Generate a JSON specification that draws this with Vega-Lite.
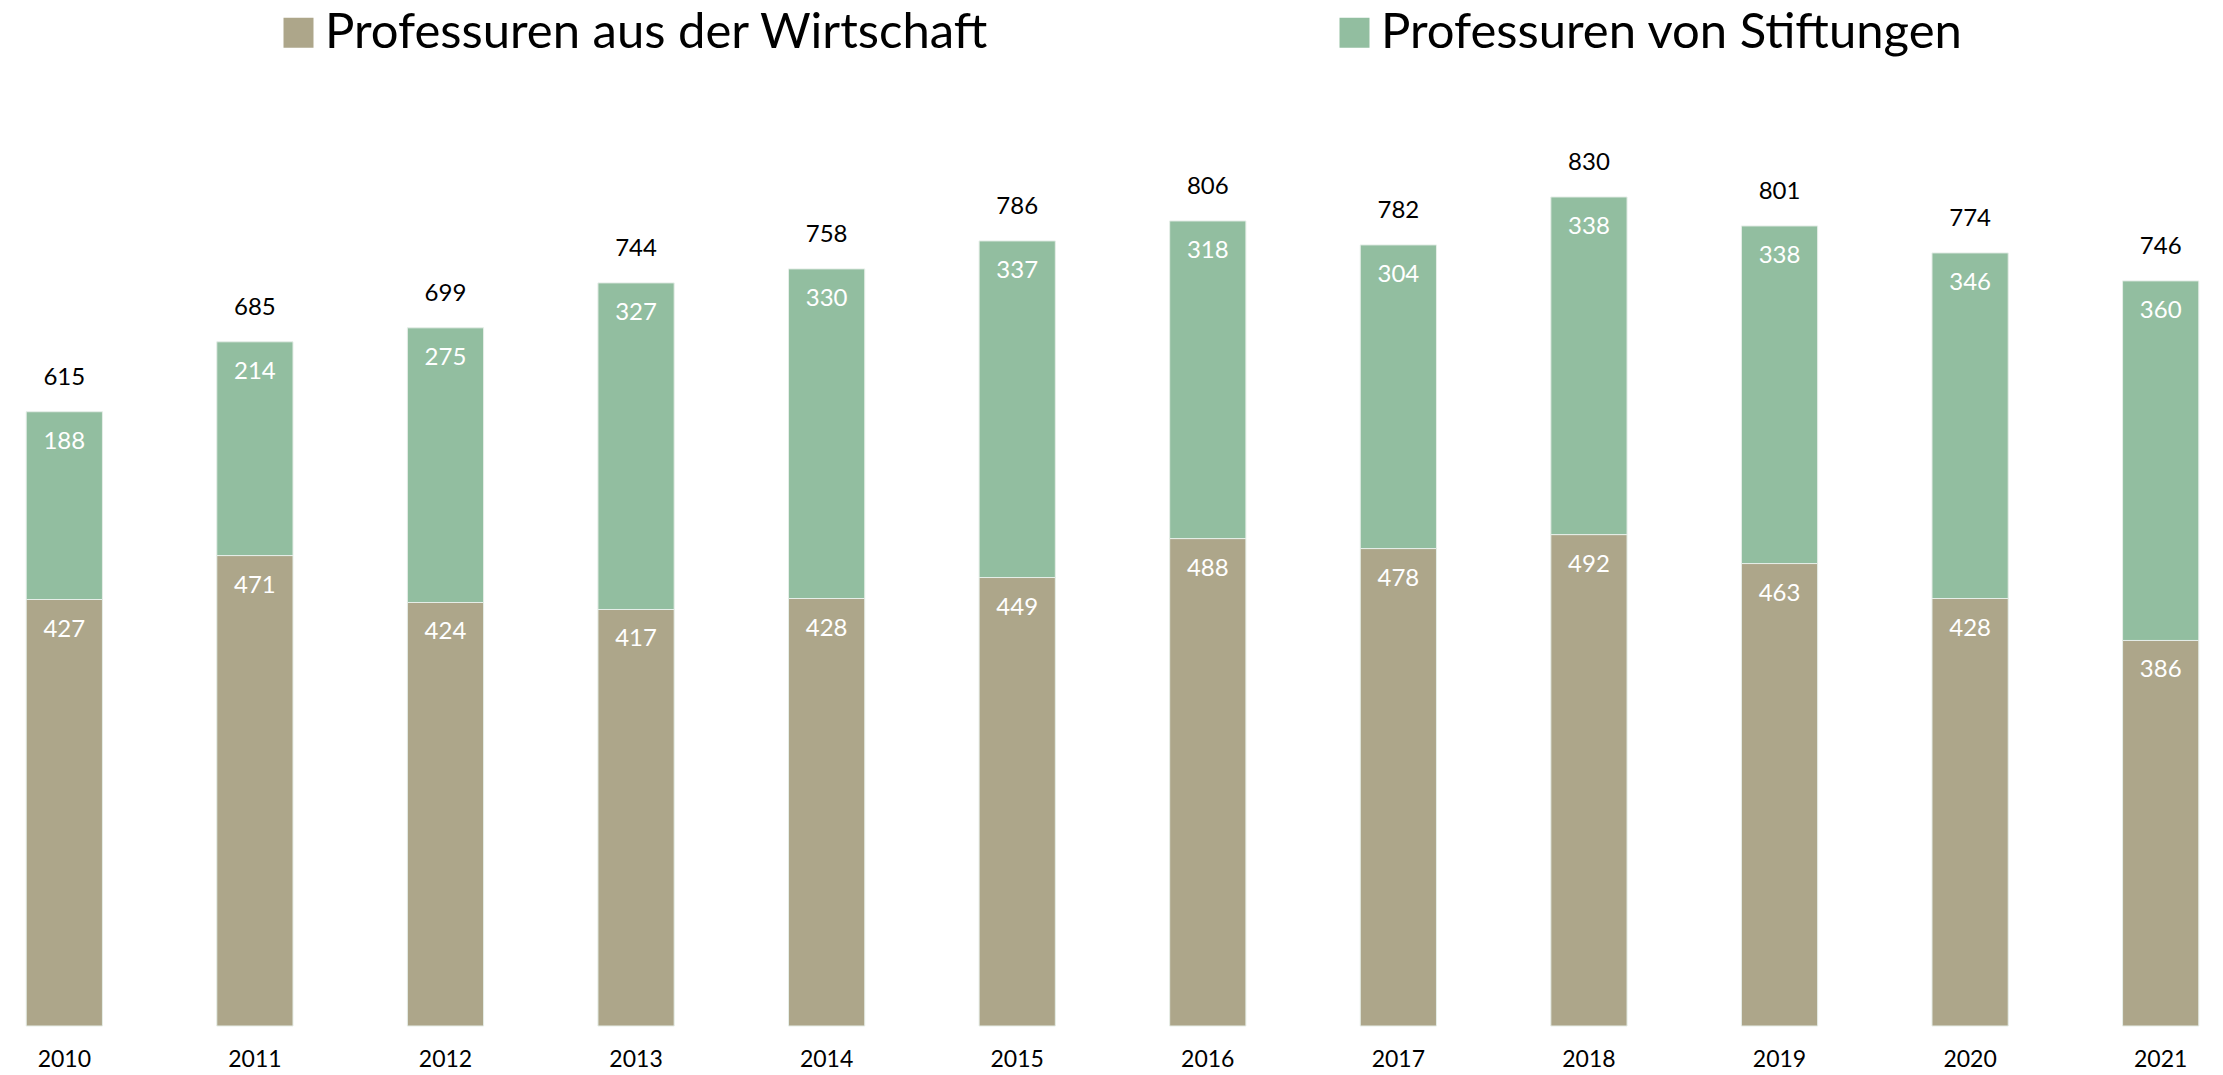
{
  "$schema": "https://vega.github.io/schema/vega-lite/v6.json",
  "width": 2221,
  "height": 849,
  "autosize": {"type": "none"},
  "padding": {"left": 2, "top": 177, "right": 0, "bottom": 49},
  "background": "#ffffff",
  "config": {"view": {"stroke": null}, "font": "Lato"},
  "data": {
    "values": [
      {"year": "2010", "series": "Professuren aus der Wirtschaft", "value": 427},
      {"year": "2010", "series": "Professuren von Stiftungen", "value": 188},
      {"year": "2011", "series": "Professuren aus der Wirtschaft", "value": 471},
      {"year": "2011", "series": "Professuren von Stiftungen", "value": 214},
      {"year": "2012", "series": "Professuren aus der Wirtschaft", "value": 424},
      {"year": "2012", "series": "Professuren von Stiftungen", "value": 275},
      {"year": "2013", "series": "Professuren aus der Wirtschaft", "value": 417},
      {"year": "2013", "series": "Professuren von Stiftungen", "value": 327},
      {"year": "2014", "series": "Professuren aus der Wirtschaft", "value": 428},
      {"year": "2014", "series": "Professuren von Stiftungen", "value": 330},
      {"year": "2015", "series": "Professuren aus der Wirtschaft", "value": 449},
      {"year": "2015", "series": "Professuren von Stiftungen", "value": 337},
      {"year": "2016", "series": "Professuren aus der Wirtschaft", "value": 488},
      {"year": "2016", "series": "Professuren von Stiftungen", "value": 318},
      {"year": "2017", "series": "Professuren aus der Wirtschaft", "value": 478},
      {"year": "2017", "series": "Professuren von Stiftungen", "value": 304},
      {"year": "2018", "series": "Professuren aus der Wirtschaft", "value": 492},
      {"year": "2018", "series": "Professuren von Stiftungen", "value": 338},
      {"year": "2019", "series": "Professuren aus der Wirtschaft", "value": 463},
      {"year": "2019", "series": "Professuren von Stiftungen", "value": 338},
      {"year": "2020", "series": "Professuren aus der Wirtschaft", "value": 428},
      {"year": "2020", "series": "Professuren von Stiftungen", "value": 346},
      {"year": "2021", "series": "Professuren aus der Wirtschaft", "value": 386},
      {"year": "2021", "series": "Professuren von Stiftungen", "value": 360}
    ]
  },
  "transform": [
    {"stack": "value", "groupby": ["year"], "sort": [{"field": "series", "order": "ascending"}], "as": ["v0", "v1"]}
  ],
  "encoding": {
    "x": {
      "field": "year", "type": "nominal", "title": null,
      "scale": {"paddingInner": 0.6, "paddingOuter": 0.127},
      "axis": {"labelAngle": 0, "domain": false, "ticks": false, "tickSize": 0, "labelFontSize": 23, "labelColor": "#000000", "labelPadding": 22, "labelFont": "Lato"}
    }
  },
  "layer": [
    {
      "mark": {"type": "bar", "stroke": "#e6eee8", "strokeWidth": 1},
      "encoding": {
        "y": {"field": "v1", "type": "quantitative", "scale": {"domain": [0, 850], "nice": false, "zero": true}, "axis": null},
        "y2": {"field": "v0"},
        "color": {
          "field": "series", "type": "nominal",
          "scale": {"domain": ["Professuren aus der Wirtschaft", "Professuren von Stiftungen"], "range": ["#ADA68A", "#92BEA0"]},
          "legend": {
            "title": null, "orient": "none", "direction": "horizontal",
            "legendX": 272, "legendY": -169, "padding": 0,
            "symbolType": "square", "symbolSize": 900, "symbolStrokeWidth": 0,
            "labelFontSize": 49, "labelFont": "Lato", "labelColor": "#000000",
            "labelOffset": 2, "columnPadding": 341, "labelLimit": 1000
          }
        }
      }
    },
    {
      "mark": {"type": "text", "color": "#ffffff", "fontSize": 24, "baseline": "middle", "dy": 30, "font": "Lato"},
      "encoding": {
        "y": {"field": "v1", "type": "quantitative"},
        "text": {"field": "value", "type": "quantitative"}
      }
    },
    {
      "transform": [{"aggregate": [{"op": "sum", "field": "value", "as": "total"}], "groupby": ["year"]}],
      "mark": {"type": "text", "color": "#000000", "fontSize": 24, "baseline": "middle", "dy": -34, "font": "Lato"},
      "encoding": {
        "y": {"field": "total", "type": "quantitative"},
        "text": {"field": "total", "type": "quantitative"}
      }
    }
  ]
}
